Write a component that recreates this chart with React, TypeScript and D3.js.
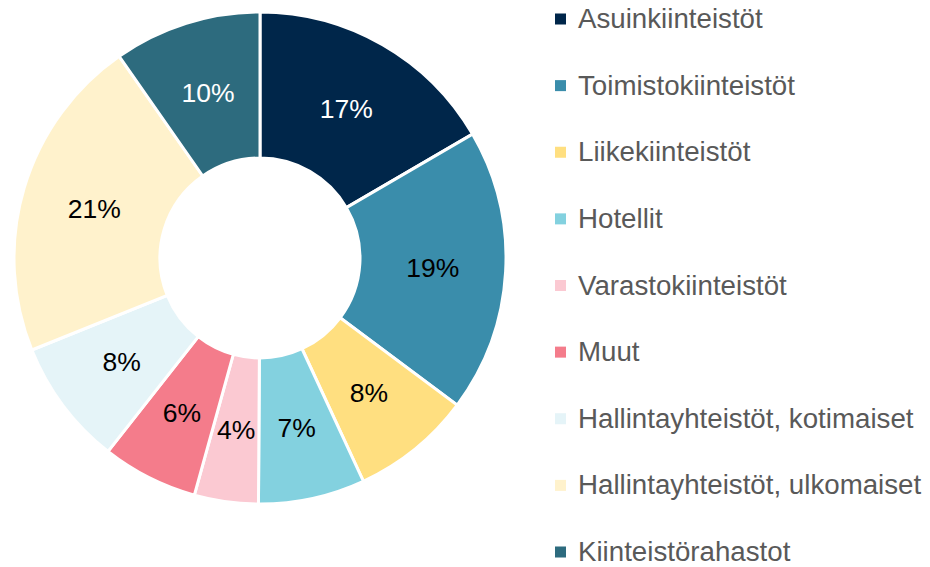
import React from "react";
import * as d3 from "d3";

const categories = [
  "Asuinkiinteistöt",
  "Toimistokiinteistöt",
  "Liikekiinteistöt",
  "Hotellit",
  "Varastokiinteistöt",
  "Muut",
  "Hallintayhteistöt, kotimaiset",
  "Hallintayhteistöt, ulkomaiset",
  "Kiinteistörahastot",
];
const values = [16.6, 18.6, 7.9, 7.0, 4.2, 6.3, 8.3, 21.4, 9.7];
const colors = [
  "#00264a",
  "#3a8dab",
  "#ffdf80",
  "#83d1df",
  "#fbc9d2",
  "#f47c8b",
  "#e5f4f8",
  "#fff2cc",
  "#2d6b7e",
];
const labelColors = ["#ffffff", "#000000", "#000000", "#000000", "#000000", "#000000", "#000000", "#000000", "#ffffff"];

export default function App() {
  const W = 930, H = 567;
  const cx = 260, cy = 258;
  const outer = 246, inner = 100;
  const total = d3.sum(values);
  const pie = d3.pie<number>().value((d) => d).sort(null);
  const arcs = pie(values);
  const arc = d3.arc<d3.PieArcDatum<number>>().innerRadius(inner).outerRadius(outer);
  const legendY = d3.scalePoint<string>().domain(categories).range([19, 552]);
  const font = "'Liberation Sans', Arial, sans-serif";
  const fmt = (v: number) => `${Math.round((v / total) * 100)}%`;
  return (
    <svg width={W} height={H} style={{ position: "absolute", left: 0, top: 0 }}>
      <rect width={W} height={H} fill="#ffffff" />
      <g transform={`translate(${cx},${cy})`}>
        {arcs.map((a, i) => (
          <path key={i} d={arc(a) || ""} fill={colors[i]} stroke="#ffffff" strokeWidth={3} />
        ))}
        {arcs.map((a, i) => {
          const [x, y] = arc.centroid(a);
          return (
            <text key={i} x={x} y={y + 9.5} textAnchor="middle" fontFamily={font} fontSize={26.5} fill={labelColors[i]}>
              {fmt(values[i])}
            </text>
          );
        })}
      </g>
      {categories.map((c, i) => {
        const y = legendY(c)!;
        return (
          <g key={c}>
            <rect x={555} y={y - 5.5} width={11} height={11} fill={colors[i]} />
            <text x={578} y={y + 9} fontFamily={font} fontSize={27.7} fill="#595959">
              {c}
            </text>
          </g>
        );
      })}
    </svg>
  );
}
